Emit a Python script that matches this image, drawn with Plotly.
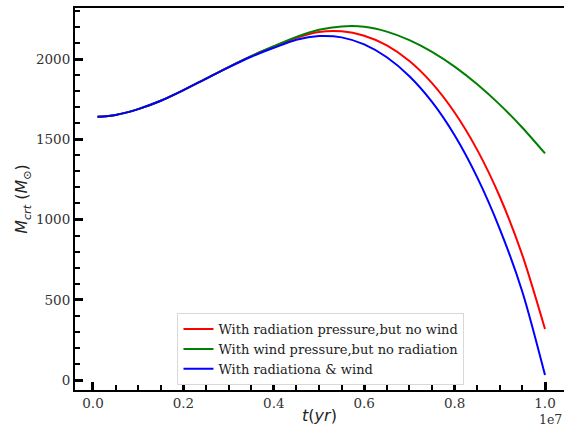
import plotly.graph_objects as go

# time, in units of 1e7 yr (as on the axis)
t = [0.01, 0.05, 0.10, 0.15, 0.20, 0.25, 0.30, 0.35, 0.40, 0.45, 0.50,
     0.55, 0.60, 0.65, 0.70, 0.75, 0.80, 0.85, 0.90, 0.95, 1.00]

# critical mass (solar masses)
m_radiation = [1640, 1652, 1688, 1740, 1806, 1878, 1950, 2018, 2078, 2133, 2169,
               2173, 2145, 2085, 1988, 1850, 1667, 1434, 1142, 777, 318]
m_wind = [1640, 1652, 1688, 1740, 1806, 1878, 1950, 2018, 2080, 2138, 2182,
          2203, 2201, 2171, 2118, 2045, 1953, 1843, 1716, 1572, 1412]
m_both = [1640, 1652, 1688, 1740, 1806, 1877, 1948, 2014, 2070, 2120, 2143,
          2135, 2091, 2011, 1893, 1733, 1525, 1263, 941, 549, 31]

labels = ['With radiation pressure,but no wind',
          'With wind pressure,but no radiation',
          'With radiationa & wind']
colors = ['red', 'green', 'blue']

serif = 'DejaVu Serif'
sans = 'DejaVu Sans'

fig = go.Figure()
for series, name, col in zip([m_radiation, m_wind, m_both], labels, colors):
    fig.add_trace(go.Scatter(
        x=t, y=series, mode='lines', name=name,
        line=dict(color=col, width=2, shape='spline', smoothing=0.8)
    ))

tick_font = dict(family=serif, size=13.5, color='#333')

fig.update_layout(
    width=564, height=432,
    margin=dict(l=75, r=0, t=8, b=42),
    plot_bgcolor='white', paper_bgcolor='white',
    showlegend=True,
    legend=dict(
        x=0.503, y=0.013, xanchor='center', yanchor='bottom',
        bgcolor='white', bordercolor='#d8d8d8', borderwidth=1,
        font=dict(family=serif, size=13, color='#222'),
        itemwidth=30, tracegroupgap=0
    ),
    xaxis=dict(
        range=[-0.0398, 1.042], automargin=False,
        tickmode='linear', tick0=0, dtick=0.2, tickformat='.1f',
        ticks='inside', ticklen=8, tickwidth=2.5, tickcolor='black',
        minor=dict(tickmode='linear', tick0=0, dtick=0.05, ticks='inside',
                   ticklen=5, tickwidth=2, tickcolor='black'),
        showline=True, linecolor='black', linewidth=2, mirror=True,
        showgrid=False, zeroline=False, tickfont=tick_font,
        title=dict(text='<i>t</i>(<i>yr</i>)', standoff=0,
                   font=dict(family=sans, size=16, color='#222'))
    ),
    yaxis=dict(
        range=[-62, 2318], automargin=False,
        tickmode='linear', tick0=0, dtick=500,
        ticks='inside', ticklen=8, tickwidth=2.5, tickcolor='black',
        minor=dict(tickmode='linear', tick0=0, dtick=100, ticks='inside',
                   ticklen=5, tickwidth=2, tickcolor='black'),
        showline=True, linecolor='black', linewidth=2, mirror=False,
        showgrid=False, zeroline=False, tickfont=tick_font,
        title=dict(text='<i>M</i><sub><i>crt</i></sub> (<i>M</i><sub>⊙</sub>)',
                   standoff=4,
                   font=dict(family=sans, size=16, color='#222'))
    ),
)

fig.add_annotation(
    text='1e7', xref='paper', yref='paper', x=1.0, y=-0.078,
    xanchor='right', yanchor='middle', showarrow=False,
    font=dict(family=serif, size=12.5, color='#333')
)

# drop the default page margin so the figure sits at the window's corner
fig.write_html('out.html', config={'displayModeBar': False},
               post_script="document.body.style.margin='0';")
